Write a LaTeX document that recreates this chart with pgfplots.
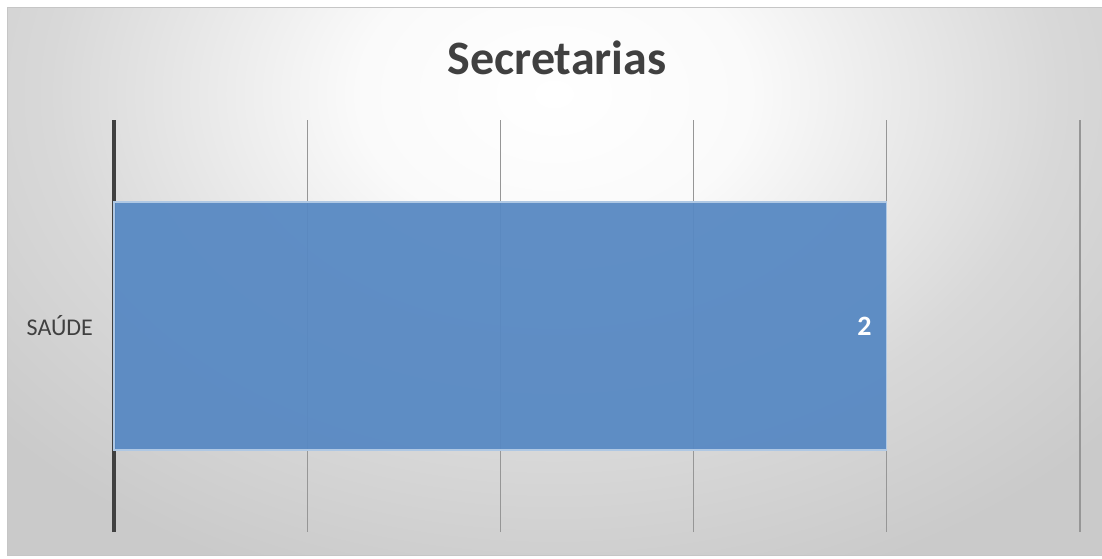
\documentclass[border=0pt]{standalone}
\usepackage{pgfplots}
\pgfplotsset{compat=1.18}
\usepackage{fontspec}
\setmainfont{Carlito}
\definecolor{bgmid}{RGB}{216,216,216}
\definecolor{bgouter}{RGB}{202,202,202}
\definecolor{textdark}{RGB}{64,64,64}
\definecolor{axisdark}{RGB}{64,64,64}
\definecolor{barblue}{RGB}{88,137,195}
\definecolor{baredge}{RGB}{175,200,228}
\definecolor{gridgray}{RGB}{150,150,150}
\pgfdeclareradialshading{bgshade}{\pgfpoint{0bp}{0bp}}{color(0bp)=(white); color(70bp)=(white!98!black); color(180bp)=(bgmid); color(260bp)=(bgouter); color(400bp)=(bgouter)}
\begin{document}
\begin{tikzpicture}
\useasboundingbox (0pt,0pt) rectangle (551pt,279pt);
\fill[white] (0pt,0pt) rectangle (551pt,279pt);
\begin{scope}
\clip (3.5pt,1.5pt) rectangle (551pt,275pt);
\begin{scope}[transform canvas={shift={(277pt,232pt)}, xscale=1.4}]
\pgfuseshading{bgshade}
\end{scope}
\end{scope}
\draw[gray!45, line width=0.5pt] (3.5pt,1.5pt) rectangle (551pt,275pt);
\node[anchor=base, font=\fontsize{24}{28}\selectfont\bfseries, text=textdark, inner sep=0pt] at (278.5pt,241.5pt) {Secretarias};
\begin{axis}[
  at={(57pt,13pt)}, anchor=south west,
  scale only axis, width=483pt, height=206pt,
  xmin=0, xmax=2.5, ymin=-0.5, ymax=0.5,
  xbar, bar width=124pt,
  axis x line*=bottom, x axis line style={draw=none},
  axis y line*=left, y axis line style={draw=axisdark, line width=1.6pt, -},
  xtick={0.5,1,1.5,2,2.5}, xticklabels={},
  xmajorgrids, grid style={gridgray, line width=0.6pt},
  ytick={0}, yticklabels={SAÚDE},
  major tick length=0pt,
  yticklabel style={font=\fontsize{12}{14}\selectfont, text=textdark, xshift=-7pt},
  /pgf/number format/assume math mode=true,
  nodes near coords,
  every node near coord/.append style={anchor=east, xshift=-4pt, text=white, text opacity=1, font=\fontsize{14}{16}\selectfont\bfseries},
  clip=false,
]
\addplot[fill=barblue, draw=baredge, line width=0.6pt, fill opacity=0.95] coordinates {(2,0)};
\end{axis}
\end{tikzpicture}
\end{document}
